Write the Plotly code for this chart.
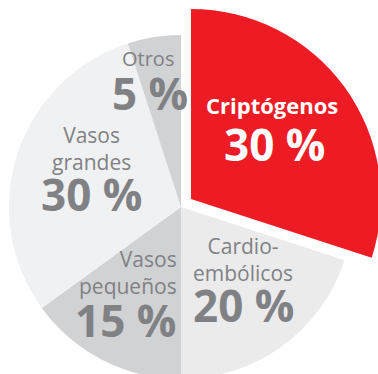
import plotly.graph_objects as go

# Stroke subtypes and their share (%)
categories = ["Criptógenos", "Cardio-embólicos", "Vasos pequeños", "Vasos grandes", "Otros"]
shares = [30, 20, 15, 30, 5]
# Label text as typeset in each slice
label_lines = ["Criptógenos", "Cardio-<br>embólicos", "Vasos<br>pequeños", "Vasos<br>grandes", "Otros"]

RED = "#ED1C24"
slice_colors = [RED, "#EBEBEC", "#D1D2D4", "#F0F1F2", "#D1D2D4"]
TEXT_GRAY = "#808184"
CLEAR = "rgba(0,0,0,0)"

# Canvas is a bit larger than the visible window so the pulled-out slice can bleed off the edge
W, H = 400, 400


def px_x(x):
    return x / W


def px_y(y):
    return 1 - y / H


def box(cx, cy, r):
    return dict(x=[px_x(cx - r), px_x(cx + r)], y=[px_y(cy + r), px_y(cy - r)])


fig = go.Figure()

# Grey slices (the highlighted slot is left empty)
fig.add_trace(go.Pie(
    labels=categories, values=shares, sort=False, direction="clockwise", rotation=0,
    marker=dict(colors=[CLEAR] + slice_colors[1:], line=dict(width=0)),
    textinfo="none", hoverinfo="skip", showlegend=False,
    domain=box(181, 207, 172),
))

# Highlighted slice, drawn larger and shifted outward
fig.add_trace(go.Pie(
    labels=categories, values=shares, sort=False, direction="clockwise", rotation=0,
    marker=dict(colors=[RED] + [CLEAR] * 4, line=dict(width=0)),
    textinfo="none", hoverinfo="skip", showlegend=False,
    domain=box(191, 199, 190),
))

# Label placement: (x, y of label, x of value, y of value, anchor, label size)
placement = [
    (272, 105, 274, 144, "center", 22),
    (243, 259, 243, 305, "center", 21),
    (179, 272, 178, 320, "right", 21),
    (91, 148, 91, 194, "center", 21),
    (148, 58, 150, 93, "center", 20),
]

FONT = "Open Sans"
annotations = []
for i, (cat, val, lab) in enumerate(zip(categories, shares, label_lines)):
    lx, ly, vx, vy, anchor, lsize = placement[i]
    color = "white" if i == 0 else TEXT_GRAY
    annotations.append(dict(
        x=px_x(lx), y=px_y(ly), xref="paper", yref="paper", xanchor=anchor, yanchor="middle",
        text=lab, showarrow=False, align=anchor,
        font=dict(family=FONT, size=lsize, color=color, weight=700 if i == 0 else 400),
    ))
    annotations.append(dict(
        x=px_x(vx), y=px_y(vy), xref="paper", yref="paper", xanchor=anchor, yanchor="middle",
        text=f"{val} %", showarrow=False,
        font=dict(family=FONT, size=44, color=color, weight=700),
    ))

fig.update_layout(
    width=W, height=H,
    margin=dict(l=0, r=0, t=0, b=0),
    paper_bgcolor="white", plot_bgcolor="white",
    annotations=annotations,
)

fig.write_html(
    "out.html",
    post_script="document.documentElement.style.overflow='hidden';document.body.style.overflow='hidden';document.body.style.margin='0';",
)
